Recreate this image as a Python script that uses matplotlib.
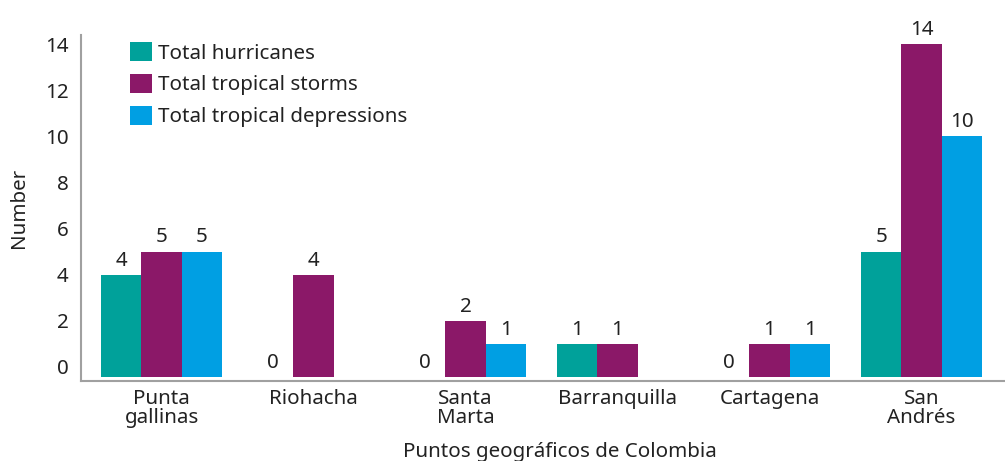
import numpy as np
import matplotlib
matplotlib.use("Agg")
import matplotlib.pyplot as plt
from matplotlib.patches import Patch

plt.rcParams['font.family'] = ['Noto Sans', 'DejaVu Sans']

# datos
lugares = ["Punta\ngallinas", "Riohacha", "Santa\nMarta", "Barranquilla", "Cartagena", "San\nAndrés"]
huracanes = [4, 0, 0, 1, 0, 5]
tormentas = [5, 4, 2, 1, 1, 14]
depresiones = [5, np.nan, 1, np.nan, 1, 10]

series = ["Total hurricanes", "Total tropical storms", "Total tropical depressions"]
colores = ["#00A19A", "#8B1868", "#009FE3"]

texto = "#222222"
fs = 14.8
base = -0.43  # las barras arrancan un poco por debajo del 0 como en el original
ancho = 0.265

fig = plt.figure(figsize=(10.05, 4.61), dpi=100)
ax = fig.add_axes([0.0806, 0.1735, 0.9194, 0.7505])

x = np.arange(len(lugares))
for i, (vals, col) in enumerate(zip([huracanes, tormentas, depresiones], colores)):
    vals = np.array(vals, dtype=float)
    alturas = np.where(np.isnan(vals) | (vals <= 0), 0, vals - base)
    barras = ax.bar(x + (i - 1) * ancho, alturas, ancho, bottom=base, color=col, linewidth=0)
    etiquetas = ["" if np.isnan(v) else str(int(v)) for v in vals]
    ax.bar_label(barras, labels=etiquetas, padding=3, fontsize=fs, color=texto)

ax.set_xlim(-0.53, 5.55)
ax.set_ylim(-0.61, 14.39)
ax.set_yticks(range(0, 15, 2))
ax.set_xticks(x)
ax.set_xticklabels(lugares, linespacing=0.9)
ax.tick_params(axis='both', length=0, labelsize=fs, colors=texto)
ax.tick_params(axis='y', pad=9)
ax.tick_params(axis='x', pad=6)

for s in ["top", "right"]:
    ax.spines[s].set_visible(False)
for s in ["left", "bottom"]:
    ax.spines[s].set_color("#a0a0a0")
    ax.spines[s].set_linewidth(1.5)

ax.set_ylabel("Number", fontsize=fs, color=texto)
ax.yaxis.set_label_coords(-0.056, 0.5)
ax.set_xlabel("Puntos geográficos de Colombia", fontsize=fs, color=texto, va='center')
ax.xaxis.set_label_coords(0.518, -0.205)

handles = [Patch(facecolor=c, edgecolor='none') for c in colores]
ax.legend(handles, series, loc='upper left', bbox_to_anchor=(0.053, 0.98), frameon=False,
          fontsize=fs, handlelength=1.05, handleheight=1.05, handletextpad=0.3,
          labelspacing=0.5, borderpad=0, borderaxespad=0, labelcolor=texto)

fig.savefig("out.png", dpi=100)
